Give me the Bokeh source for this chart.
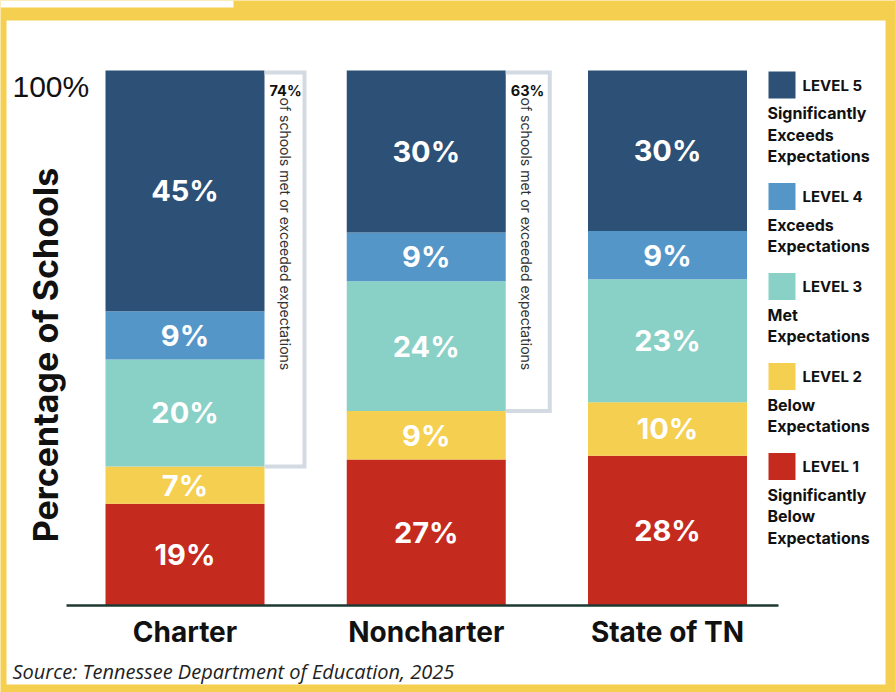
import math
from bokeh.plotting import figure
from bokeh.models import ColumnDataSource, Range1d
from bokeh.core.properties import value
from bokeh.embed import file_html
from bokeh.resources import INLINE

# ---------------- data ----------------
categories = ["Charter", "Noncharter", "State of TN"]
level1 = [19, 27, 28]
level2 = [7, 9, 10]
level3 = [20, 24, 23]
level4 = [9, 9, 9]
level5 = [45, 30, 30]
bracket_categories = ["Charter", "Noncharter"]
level_names = ["LEVEL 5", "LEVEL 4", "LEVEL 3", "LEVEL 2", "LEVEL 1"]
level_desc = [
    ["Significantly", "Exceeds", "Expectations"],
    ["Exceeds", "Expectations"],
    ["Met", "Expectations"],
    ["Below", "Expectations"],
    ["Significantly", "Below", "Expectations"],
]
y_tick_label = "100%"
y_title = "Percentage of Schools"
bracket_text = "of schools met or exceeded expectations"
source_note = "Source: Tennessee Department of Education, 2025"

# ---------------- style ----------------
YELLOW = "#f4cf50"
COLORS = ["#c52a1f", "#f5cf4f", "#89d0c6", "#5496c8", "#2d5077"]  # level1..level5
LEGEND_COLORS = COLORS[::-1]
BRACKET = "#d4dae2"
DARK = "#111111"
HEAD = "Inter"

W, H = 895, 692
CX0, STEP = 184.5, 241.25      # page px of first bar centre, spacing
Y0, PXU = 605.0, 5.35          # page px of 0 %, px per percent


def X(px):
    return (px - CX0) / STEP


def Y(py):
    return (Y0 - py) / PXU


def DX(px):
    return px / STEP


def DY(px):
    return px / PXU


p = figure(width=W, height=H, x_range=Range1d(X(0), X(W)),
           y_range=Range1d(Y(H), Y(0)),
           toolbar_location=None, output_backend="svg", min_border=0,
           x_axis_location=None, y_axis_location=None,
           background_fill_color=YELLOW, border_fill_color=YELLOW,
           outline_line_color=None)
p.grid.visible = False

# white card and top-left white strip
p.quad(left=[X(6), X(0)], right=[X(885), X(233)], top=[Y(20), Y(0)], bottom=[Y(684), Y(7)],
       fill_color="white", line_color=None)

# ---------------- stacked bars ----------------
levels = [level1, level2, level3, level4, level5]
xs = list(range(len(categories)))
BW = 159 / STEP
lab_x, lab_y, lab_t = [], [], []
bar_data = dict(x=xs)
for li, lv in enumerate(levels):
    bar_data[f"l{li+1}"] = []
for i in xs:
    tot = sum(lv[i] for lv in levels)
    bottom = 0.0
    for li, lv in enumerate(levels):
        h = lv[i] * 100.0 / tot
        bar_data[f"l{li+1}"].append(h)
        lab_x.append(i)
        lab_y.append(bottom + h / 2)
        lab_t.append(f"{lv[i]}%")
        bottom += h

src = ColumnDataSource(bar_data)
p.vbar_stack([f"l{k}" for k in range(1, 6)], x="x", width=BW, source=src,
             color=COLORS, line_color=None)

p.text(x=lab_x, y=lab_y, text=lab_t, text_color="white",
       text_font=value(HEAD), text_font_style="bold", text_font_size="29px",
       text_align="center", text_baseline="middle")

# baseline
p.segment(x0=[X(66)], x1=[X(778)], y0=[0], y1=[0], line_color="#1e3932", line_width=2.5)

# category labels
p.text(x=xs, y=[Y(631)] * len(xs), text=categories, text_color=DARK,
       text_font=value(HEAD), text_font_style="bold", text_font_size="28px",
       text_align="center", text_baseline="middle")

# ---------------- brackets ----------------
bracket_offsets = [40, 44]
LW = 4
for bi, cat in enumerate(bracket_categories):
    i = categories.index(cat)
    tot = sum(lv[i] for lv in levels)
    low = (level1[i] + level2[i]) * 100.0 / tot
    met = level3[i] + level4[i] + level5[i]
    bar_r = i + BW / 2
    xb = bar_r + DX(bracket_offsets[bi])
    top = 100 - DY(LW / 2)
    p.line(x=[bar_r, xb, xb, bar_r], y=[top, top, low, low],
           line_color=BRACKET, line_width=LW, line_join="miter")
    p.text(x=[bar_r + DX(5)], y=[Y(90)], text=[f"{met}%"], text_color=DARK,
           text_font=value(HEAD), text_font_style="bold", text_font_size="14.5px",
           text_align="left", text_baseline="middle")
    p.text(x=[bar_r + DX(21)], y=[Y(97)], text=[bracket_text], text_color="#333333",
           text_font=value(HEAD), text_font_size="14px", angle=-math.pi / 2,
           text_align="left", text_baseline="middle")

# ---------------- y annotations ----------------
p.text(x=[X(12)], y=[Y(86)], text=[y_tick_label], text_color=DARK,
       text_font=value("Liberation Sans"), text_font_size="30px",
       text_align="left", text_baseline="middle")
p.text(x=[X(44.5)], y=[Y(354.5)], text=[y_title], text_color=DARK,
       text_font=value(HEAD), text_font_style="bold", text_font_size="34px",
       angle=math.pi / 2, text_align="center", text_baseline="middle")

# ---------------- legend ----------------
sq_y = 84.5
sq_ys, d_y, d_t = [], [], []
for k, name in enumerate(level_names):
    sq_ys.append(Y(sq_y))
    for j, line in enumerate(level_desc[k]):
        d_y.append(Y(sq_y + 28 + 21.5 * j))
        d_t.append(line)
    sq_y += 47 + 21.5 * len(level_desc[k])

p.rect(x=[X(781.5)] * 5, y=sq_ys, width=DX(27), height=DY(27),
       fill_color=LEGEND_COLORS, line_color=None)
p.text(x=[X(802)] * 5, y=sq_ys, text=level_names, text_color=DARK,
       text_font=value(HEAD), text_font_style="bold", text_font_size="15px",
       text_align="left", text_baseline="middle")
p.text(x=[X(767)] * len(d_t), y=d_y, text=d_t, text_color=DARK,
       text_font=value(HEAD), text_font_style="bold", text_font_size="16px",
       text_align="left", text_baseline="middle")

# source
p.text(x=[X(12)], y=[Y(671)], text=[source_note], text_color="#222222",
       text_font=value("Open Sans"), text_font_style="italic", text_font_size="20px",
       text_align="left", text_baseline="middle")

open("out.html", "w").write(file_html(p, INLINE))
